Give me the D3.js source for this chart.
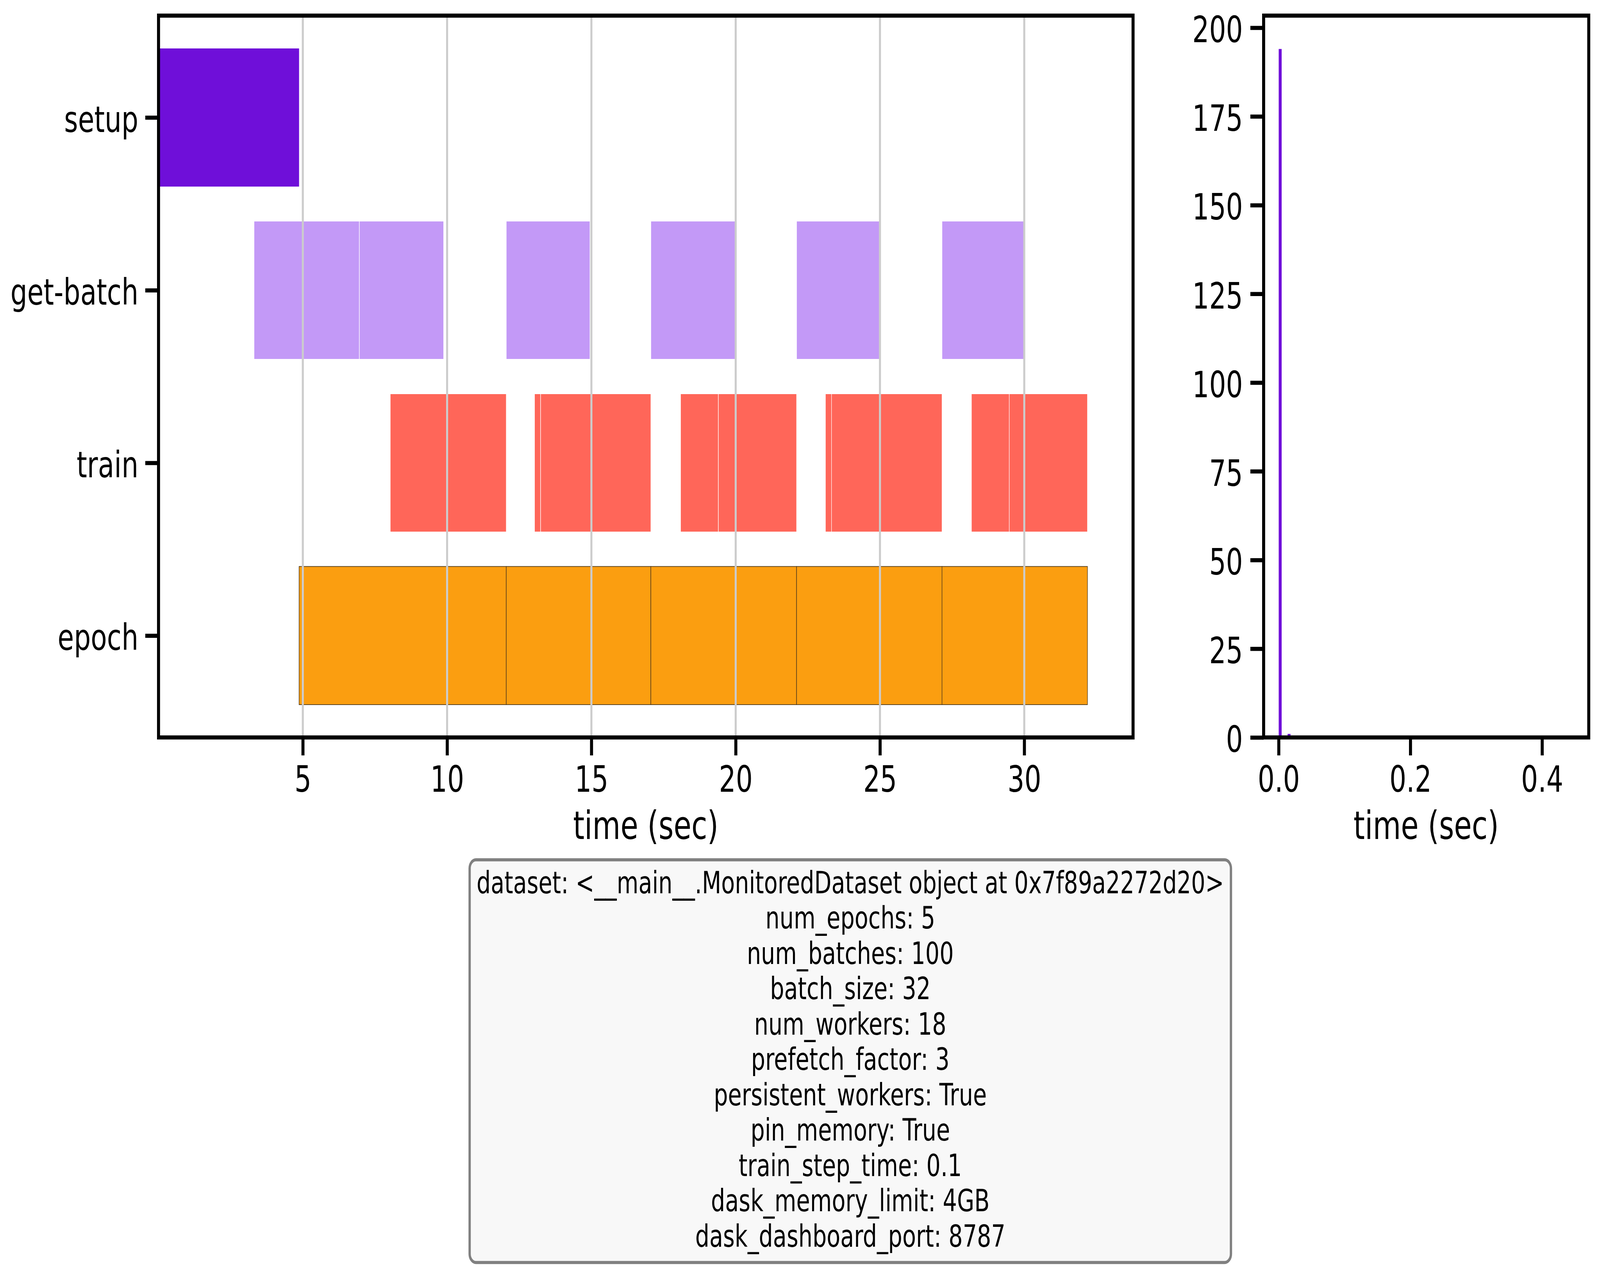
<!DOCTYPE html>
<html>
<head>
<meta charset="utf-8">
<script src="https://cdn.jsdelivr.net/npm/d3@7"></script>
<style>
  html, body { margin: 0; padding: 0; background: #ffffff; overflow: hidden; width: 100%; height: 100%; }
  svg { display: block; width: 100vw; height: 100vh; font-family: "DejaVu Sans", sans-serif; }
</style>
</head>
<body>
<svg id="chart" viewBox="0 0 5551 3254" preserveAspectRatio="none"></svg>
<script>
// ---------------- data ----------------
const categories = ["setup", "get-batch", "train", "epoch"];
const categoryColors = ["#6f0fd9", "#c399f7", "#ff6659", "#fb9e10"];

const setupSpans = [[0.0, 4.87]];
const getBatchSpans = [[3.31, 6.96], [6.96, 9.88], [12.05, 14.95], [17.06, 20.01], [22.11, 24.98], [27.15, 30.00]];
const trainSpans = [[8.03, 12.05], [13.03, 13.24], [13.24, 17.06], [18.09, 19.40], [19.40, 22.11],
                    [23.11, 23.32], [23.32, 27.15], [28.17, 29.48], [29.48, 32.19]];
const epochSpans = [[4.87, 12.05], [12.05, 17.06], [17.06, 22.11], [22.11, 27.15], [27.15, 32.19]];

const timeTicks = [5, 10, 15, 20, 25, 30];

// histogram of step durations (sec)
const histBinStarts = [0.0001, 0.00459, 0.00908, 0.01357];
const histBinWidth = 0.00449;
const histCounts = [194, 0, 0, 1];
const histXTicks = [0.0, 0.2, 0.4];
const histYTicks = [0, 25, 50, 75, 100, 125, 150, 175, 200];

const infoLines = [
  "dataset: <__main__.MonitoredDataset object at 0x7f89a2272d20>",
  "num_epochs: 5",
  "num_batches: 100",
  "batch_size: 32",
  "num_workers: 18",
  "prefetch_factor: 3",
  "persistent_workers: True",
  "pin_memory: True",
  "train_step_time: 0.1",
  "dask_memory_limit: 4GB",
  "dask_dashboard_port: 8787"
];

// ---------------- layout ----------------
const svg = d3.select("#chart");
const TICK_FS = 92, LABEL_FS = 100, BOX_FS = 77.5;
const SPINE_W = 10.5, TICK_LEN = 46;

const main = { left: 550, right: 3931, top: 40, bottom: 1888 };
const hist = { left: 4384, right: 5512, top: 40, bottom: 1888 };

const spanData = [setupSpans, getBatchSpans, trainSpans, epochSpans];

// ---------------- main timeline ----------------
const x = d3.scaleLinear().domain([0, 33.77]).range([main.left, main.right]);
const yIdx = d3.scaleLinear().domain([-0.59, 3.59]).range([main.top, main.bottom]);
const barH = yIdx(0.4) - yIdx(-0.4);

const gMain = svg.append("g");

spanData.forEach((spans, ci) => {
  const isEpoch = categories[ci] === "epoch";
  gMain.append("g").selectAll("rect").data(spans).join("rect")
    .attr("x", d => x(d[0]))
    .attr("width", d => x(d[1]) - x(d[0]))
    .attr("y", yIdx(ci) - barH / 2)
    .attr("height", barH)
    .attr("fill", categoryColors[ci])
    .attr("stroke", isEpoch ? "#4f3a1c" : (ci === 0 ? "none" : "#ffffff"))
    .attr("stroke-width", isEpoch ? 1.8 : 1.6);
});

// vertical grid lines (drawn above bars as in reference)
gMain.append("g").selectAll("line").data(timeTicks).join("line")
  .attr("x1", d => x(d)).attr("x2", d => x(d))
  .attr("y1", main.top).attr("y2", main.bottom)
  .attr("stroke", "#cccccc").attr("stroke-width", 7);

// frame
gMain.append("rect")
  .attr("x", main.left).attr("y", main.top)
  .attr("width", main.right - main.left).attr("height", main.bottom - main.top)
  .attr("fill", "none").attr("stroke", "#000").attr("stroke-width", SPINE_W);

// x axis
const xAxis = d3.axisBottom(x).tickValues(timeTicks).tickFormat(d3.format("d"))
  .tickSize(TICK_LEN).tickPadding(28);
const gx = gMain.append("g").attr("transform", `translate(0,${main.bottom})`).call(xAxis);
gx.select(".domain").remove();
gx.selectAll(".tick line").attr("stroke", "#000").attr("stroke-width", SPINE_W);
gx.selectAll(".tick text").attr("font-size", TICK_FS).attr("fill", "#000")
  .attr("font-family", "DejaVu Sans");

// y axis (categories)
const yAxis = d3.axisLeft(yIdx).tickValues([0, 1, 2, 3]).tickFormat(i => categories[i])
  .tickSize(TICK_LEN).tickPadding(24);
const gy = gMain.append("g").attr("transform", `translate(${main.left},0)`).call(yAxis);
gy.select(".domain").remove();
gy.selectAll(".tick line").attr("stroke", "#000").attr("stroke-width", SPINE_W);
gy.selectAll(".tick text").attr("font-size", TICK_FS).attr("fill", "#000")
  .attr("dy", "0.4em").attr("font-family", "DejaVu Sans");

gMain.append("text")
  .attr("x", (main.left + main.right) / 2).attr("y", main.bottom + 260)
  .attr("text-anchor", "middle").attr("font-size", LABEL_FS).attr("fill", "#000")
  .text("time (sec)");

// ---------------- histogram ----------------
const hx = d3.scaleLinear().domain([-0.0228, 0.4709]).range([hist.left, hist.right]);
const hy = d3.scaleLinear().domain([0, 203.4]).range([hist.bottom, hist.top]);
const histData = histBinStarts.map((s, i) => ({ x0: s, x1: s + histBinWidth, n: histCounts[i] }));

const gHist = svg.append("g");
gHist.append("g").selectAll("rect").data(histData.filter(d => d.n > 0)).join("rect")
  .attr("x", d => hx(d.x0))
  .attr("width", d => hx(d.x1) - hx(d.x0))
  .attr("y", d => hy(d.n))
  .attr("height", d => hy(0) - hy(d.n))
  .attr("fill", categoryColors[0]);

gHist.append("rect")
  .attr("x", hist.left).attr("y", hist.top)
  .attr("width", hist.right - hist.left).attr("height", hist.bottom - hist.top)
  .attr("fill", "none").attr("stroke", "#000").attr("stroke-width", SPINE_W);

const hxAxis = d3.axisBottom(hx).tickValues(histXTicks).tickFormat(d3.format(".1f"))
  .tickSize(TICK_LEN).tickPadding(28);
const ghx = gHist.append("g").attr("transform", `translate(0,${hist.bottom})`).call(hxAxis);
ghx.select(".domain").remove();
ghx.selectAll(".tick line").attr("stroke", "#000").attr("stroke-width", SPINE_W);
ghx.selectAll(".tick text").attr("font-size", TICK_FS).attr("fill", "#000")
  .attr("font-family", "DejaVu Sans");

const hyAxis = d3.axisLeft(hy).tickValues(histYTicks).tickFormat(d3.format("d"))
  .tickSize(TICK_LEN).tickPadding(26);
const ghy = gHist.append("g").attr("transform", `translate(${hist.left},0)`).call(hyAxis);
ghy.select(".domain").remove();
ghy.selectAll(".tick line").attr("stroke", "#000").attr("stroke-width", SPINE_W);
ghy.selectAll(".tick text").attr("font-size", TICK_FS).attr("fill", "#000")
  .attr("dy", "0.4em").attr("font-family", "DejaVu Sans");

gHist.append("text")
  .attr("x", (hist.left + hist.right) / 2).attr("y", hist.bottom + 260)
  .attr("text-anchor", "middle").attr("font-size", LABEL_FS).attr("fill", "#000")
  .text("time (sec)");

// ---------------- info box ----------------
const boxCx = 2950, firstBaseline = 2287, lineStep = 90.5;
const gBox = svg.append("g");
const boxRect = gBox.append("rect")
  .attr("fill", "#f8f8f8").attr("stroke", "#808080").attr("stroke-width", 8)
  .attr("rx", 22).attr("ry", 22);
const txt = gBox.append("text")
  .attr("text-anchor", "middle").attr("font-size", BOX_FS).attr("fill", "#000")
  .attr("font-family", "DejaVu Sans");
txt.selectAll("tspan").data(infoLines).join("tspan")
  .attr("x", boxCx)
  .attr("y", (d, i) => firstBaseline + i * lineStep)
  .text(d => d);

const bb = txt.node().getBBox();
const padX = 24, padTop = 14, padBottom = 22;
boxRect.attr("x", bb.x - padX).attr("y", bb.y - padTop)
  .attr("width", bb.width + 2 * padX).attr("height", bb.height + padTop + padBottom);
</script>
</body>
</html>
